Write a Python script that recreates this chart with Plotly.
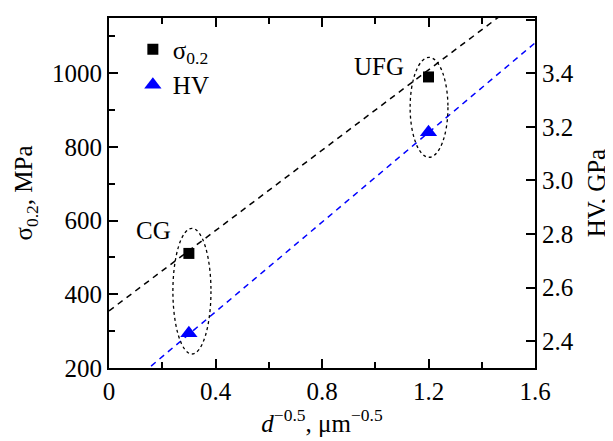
import plotly.graph_objects as go

# Data
d_inv_sqrt = [0.3, 1.2]            # d^-0.5, um^-0.5
sigma = [511, 990]                  # sigma_0.2, MPa
hv = [2.43, 3.18]                   # HV, GPa
labels = ["CG", "UFG"]

# Hall-Petch fit lines (endpoints)
fit_x = [0.0, 1.6]
sigma_fit = [355, 1227]
hv_fit = [2.175, 3.513]

FONT = "Liberation Serif"
fs = 25

fig = go.Figure()

fig.add_trace(go.Scatter(x=fit_x, y=sigma_fit, mode="lines",
                         line=dict(color="black", dash="6px,5px", width=1.5),
                         showlegend=False, hoverinfo="skip"))
fig.add_trace(go.Scatter(x=fit_x, y=hv_fit, mode="lines", yaxis="y2",
                         line=dict(color="blue", dash="6px,5px", width=1.5),
                         showlegend=False, hoverinfo="skip"))
fig.add_trace(go.Scatter(x=d_inv_sqrt, y=sigma, mode="markers", name="σ<sub>0.2</sub>",
                         marker=dict(symbol="square", size=11, color="black")))
fig.add_trace(go.Scatter(x=d_inv_sqrt, y=hv, mode="markers", name="HV", yaxis="y2",
                         marker=dict(symbol="triangle-up", size=15, color="blue")))

# dotted ellipses around each pair
ellipses = [(0.240, 0.383, 238, 579), (1.131, 1.273, 772, 1043)]
for x0, x1, y0, y1 in ellipses:
    fig.add_shape(type="circle", xref="x", yref="y", x0=x0, x1=x1, y0=y0, y1=y1,
                  line=dict(color="black", width=1.3, dash="dot"))

fig.add_annotation(x=0.168, y=572, xref="x", yref="y", text=labels[0], showarrow=False,
                   font=dict(family=FONT, size=fs, color="black"))
fig.add_annotation(x=1.013, y=1018, xref="x", yref="y", text=labels[1], showarrow=False,
                   font=dict(family=FONT, size=fs, color="black"))

axis_common = dict(showline=True, linecolor="black", linewidth=2, ticks="inside",
                   tickcolor="black", tickwidth=1.5, showgrid=False, zeroline=False,
                   automargin=False,
                   tickfont=dict(family=FONT, size=fs, color="black"))

# the page body adds an 8px margin, so the figure is sized to fit the window
fig.update_layout(
    width=605, height=433,
    margin=dict(l=101, r=78, t=10, b=73),
    paper_bgcolor="white", plot_bgcolor="white",
    font=dict(family=FONT, size=fs, color="black"),
    xaxis=dict(range=[0, 1.6], tickvals=[0, 0.4, 0.8, 1.2, 1.6],
               ticktext=["0", "0.4", "0.8", "1.2", "1.6"], ticklen=9, mirror="ticks",
               minor=dict(tickvals=[0.2, 0.6, 1.0, 1.4], ticklen=6, ticks="inside",
                          tickcolor="black", tickwidth=1.5),
               title=dict(text="<i>d</i><sup>−0.5</sup>, μm<sup>−0.5</sup>", standoff=10,
                          font=dict(family=FONT, size=fs)),
               **axis_common),
    yaxis=dict(range=[200, 1150], tickvals=[200, 400, 600, 800, 1000], ticklen=9,
               minor=dict(tickvals=[300, 500, 700, 900, 1100], ticklen=6, ticks="inside",
                          tickcolor="black", tickwidth=1.5),
               title=dict(text="σ<sub>0.2</sub>, MPa", standoff=12,
                          font=dict(family=FONT, size=fs)),
               **axis_common),
    yaxis2=dict(range=[2.3, 3.606], overlaying="y", side="right",
                tickvals=[2.4, 2.6, 2.8, 3.0, 3.2, 3.4, 3.6],
                ticktext=["2.4", "2.6", "2.8", "3.0", "3.2", "3.4", "3.6"], ticklen=9,
                title=dict(text="HV, GPa", standoff=15, font=dict(family=FONT, size=fs)),
                **axis_common),
    legend=dict(x=0.056, y=0.976, xanchor="left", yanchor="top", bgcolor="rgba(0,0,0,0)",
                font=dict(family=FONT, size=fs), tracegroupgap=0),
    showlegend=True,
)

fig.write_html("out.html")
